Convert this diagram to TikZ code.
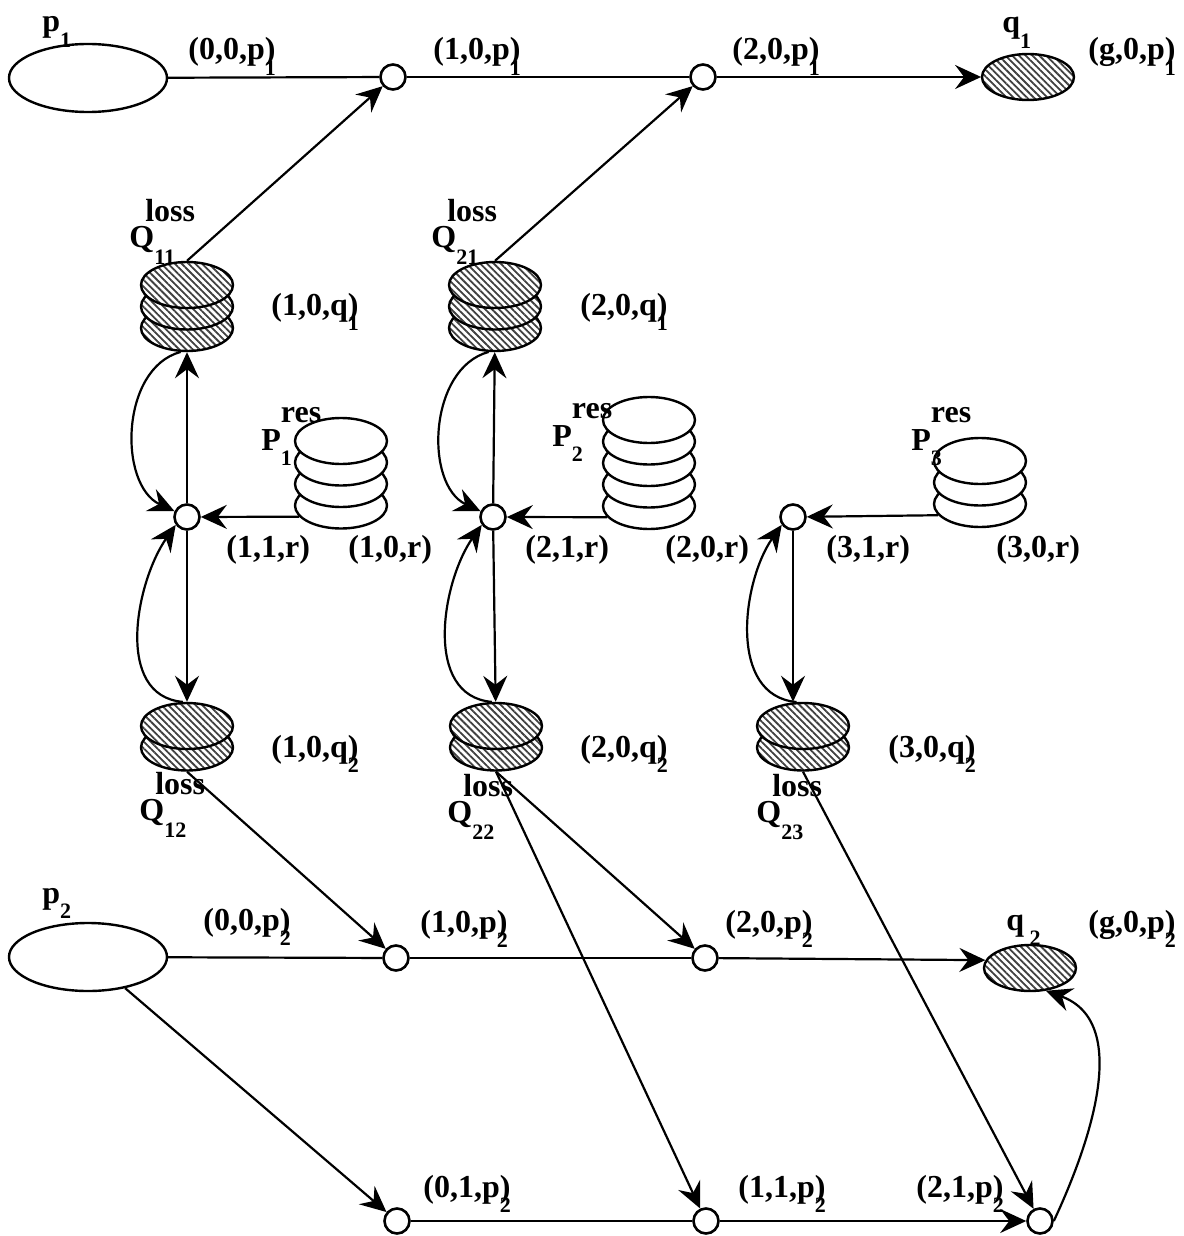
\documentclass[tikz,border=0pt]{standalone}
\usepackage{fontspec}
\setmainfont{Liberation Serif}
\usepackage{tikz}
\usetikzlibrary{shapes.geometric, arrows.meta, patterns.meta, positioning}

\newcommand{\tagfont}{\fontsize{16}{18}\selectfont\bfseries}
\newcommand{\lo}[1]{\raisebox{-0.48em}{\fontsize{11}{12}\selectfont #1}}
\newcommand{\tup}[2]{(#1\rlap{\lo{#2}})}
\newcommand{\lossQ}[1]{Q\rlap{\kern-0.28em\raisebox{0.8em}{loss}}\raisebox{-0.08em}{\lo{#1}}}
\newcommand{\resP}[1]{P\rlap{\raisebox{0.85em}{res}}\lo{#1}}
\newcommand{\diskstack}[5]{%
    \foreach \k in {#4,...,1}{\node (#1-\k) [#5] at (#2,{-#3-(\k-1)*21.5}) {};}}

\tikzset{
    junction/.style={circle, draw, line width=1.3pt, fill=white, minimum size=12.5pt, inner sep=0pt},
    place/.style={ellipse, draw, line width=1.2pt, minimum width=79pt, minimum height=34pt, inner sep=0pt},
    resdisk/.style={ellipse, draw, line width=1.2pt, fill=white, minimum width=46pt, minimum height=23pt, inner sep=0pt},
    lossdisk/.style={ellipse, draw, line width=1.2pt, minimum width=46pt, minimum height=23pt, inner sep=0pt,
        preaction={fill=white}, pattern={Lines[angle=-45, distance=2.4pt, line width=0.9pt]}, pattern color=black!75},
    tag/.style={font=\tagfont, inner sep=0pt, anchor=base west},
    edge/.style={line width=1.1pt},
    arrow/.style={line width=1.1pt, -{Stealth[length=13pt, width=12pt, inset=4.5pt]}}
}

\begin{document}
\begin{tikzpicture}[x=0.5pt, y=0.5pt]
    \useasboundingbox (0,0) rectangle (1183,-1236);

    % Top Row Nodes
    \node (p1) [place] at (88,-78) {};
    \node (a1) [junction] at (393,-77) {};
    \node (a2) [junction] at (703,-77) {};
    \node (q1) [lossdisk] at (1028,-77) {};

    % Stacks
    \diskstack{Q11}{187}{285}{3}{lossdisk}
    \diskstack{Q21}{495}{285}{3}{lossdisk}
    \diskstack{P1}{341}{441}{4}{resdisk}
    \diskstack{P2}{649}{420}{5}{resdisk}
    \diskstack{P3}{980}{461}{3}{resdisk}
    \diskstack{Q12}{187}{726}{2}{lossdisk}
    \diskstack{Q22}{496}{726}{2}{lossdisk}
    \diskstack{Q23}{803}{726}{2}{lossdisk}

    % Middle Row Nodes
    \node (r1) [junction] at (187,-517) {};
    \node (r2) [junction] at (493,-517) {};
    \node (r3) [junction] at (793,-517) {};

    % Bottom Rows Nodes
    \node (p2) [place] at (88,-957) {};
    \node (b1) [junction] at (396,-958) {};
    \node (b2) [junction] at (705,-958) {};
    \node (q2) [lossdisk] at (1030,-968) {};
    \node (c1) [junction] at (397,-1221) {};
    \node (c2) [junction] at (706,-1221) {};
    \node (c3) [junction] at (1040,-1221) {};

    % Labels
    \node (lp1) [tag] at (42,-32) {p\lo{1}};
    \node (l00p1) [tag] at (188,-60) {\tup{0,0,p}{1}};
    \node (l10p1) [tag] at (433,-60) {\tup{1,0,p}{1}};
    \node (l20p1) [tag] at (732,-60) {\tup{2,0,p}{1}};
    \node (lq1) [tag] at (1002,-33) {q\lo{1}};
    \node (lg0p1) [tag] at (1088,-60) {\tup{g,0,p}{1}};
    \node (lQ11) [tag] at (129,-247) {\lossQ{11}};
    \node (lQ21) [tag] at (431,-247) {\lossQ{21}};
    \node (l10q1) [tag] at (271,-315) {\tup{1,0,q}{1}};
    \node (l20q1) [tag] at (580,-315) {\tup{2,0,q}{1}};
    \node (lP1) [tag] at (261,-450) {\resP{1}};
    \node (lP2) [tag] at (552,-446) {\resP{2}};
    \node (lP3) [tag] at (911,-450) {\resP{3}};
    \node (l11r) [tag] at (226,-557) {(1,1,r)};
    \node (l10r) [tag] at (348,-557) {(1,0,r)};
    \node (l21r) [tag] at (525,-557) {(2,1,r)};
    \node (l20r) [tag] at (665,-557) {(2,0,r)};
    \node (l31r) [tag] at (826,-557) {(3,1,r)};
    \node (l30r) [tag] at (996,-557) {(3,0,r)};
    \node (l10q2) [tag] at (271,-757) {\tup{1,0,q}{2}};
    \node (l20q2) [tag] at (580,-757) {\tup{2,0,q}{2}};
    \node (l30q2) [tag] at (888,-757) {\tup{3,0,q}{2}};
    \node (lQ12) [tag] at (139,-820) {\lossQ{12}};
    \node (lQ22) [tag] at (447,-822) {\lossQ{22}};
    \node (lQ23) [tag] at (756,-822) {\lossQ{23}};
    \node (lp2) [tag] at (42,-903) {p\lo{2}};
    \node (l00p2) [tag] at (203,-930) {\tup{0,0,p}{2}};
    \node (l10p2) [tag] at (420,-932) {\tup{1,0,p}{2}};
    \node (l20p2) [tag] at (725,-932) {\tup{2,0,p}{2}};
    \node (lq2) [tag] at (1006,-930) {q\,\lo{2}};
    \node (lg0p2) [tag] at (1088,-932) {\tup{g,0,p}{2}};
    \node (l01p2) [tag] at (423,-1197) {\tup{0,1,p}{2}};
    \node (l11p2) [tag] at (738,-1197) {\tup{1,1,p}{2}};
    \node (l21p2) [tag] at (916,-1197) {\tup{2,1,p}{2}};

    % Top row flow
    \draw [edge] (p1) -- (a1);
    \draw [edge] (a1) -- (a2);
    \draw [arrow] (a2) -- (q1);
    \draw [arrow] (Q11-1.north) -- (a1);
    \draw [arrow] (Q21-1.north) -- (a2);

    % Resource and loss flow
    \draw [arrow] (P1-4.195) -- (r1);
    \draw [arrow] (P2-5.195) -- (r2);
    \draw [arrow] (P3-3.195) -- (r3);
    \draw [arrow] (r1) -- (Q11-3);
    \draw [arrow] (r2) -- (Q21-3);
    \draw [arrow] (r1) -- (Q12-1);
    \draw [arrow] (r2) -- (Q22-1);
    \draw [arrow] (r3) -- (r3 |- Q23-1.north);
    \draw [arrow] (Q11-3.255) to[out=195, in=155] (r1.155);
    \draw [arrow] (Q21-3.255) to[out=195, in=155] (r2.155);
    \draw [arrow] (Q12-1.100) to[out=175, in=235] (r1.215);
    \draw [arrow] (Q22-1.100) to[out=175, in=235] (r2.215);
    \draw [arrow] (Q23-1.105) to[out=175, in=235] (r3.215);

    % Bottom rows flow
    \draw [edge] (p2) -- (b1);
    \draw [edge] (b1) -- (b2);
    \draw [arrow] (b2) -- (q2.170);
    \draw [arrow] (p2.-40) -- (c1);
    \draw [edge] (c1) -- (c2);
    \draw [arrow] (c2) -- (c3);
    \draw [arrow] (c3.east) to[out=65, in=-20] (q2.-55);
    \draw [arrow] (Q12-2.south) -- (b1);
    \draw [arrow] (Q22-2.south) -- (b2);
    \draw [arrow] (Q22-2.south) -- (c2);
    \draw [arrow] (Q23-2.south) -- (c3);

\end{tikzpicture}
\end{document}
